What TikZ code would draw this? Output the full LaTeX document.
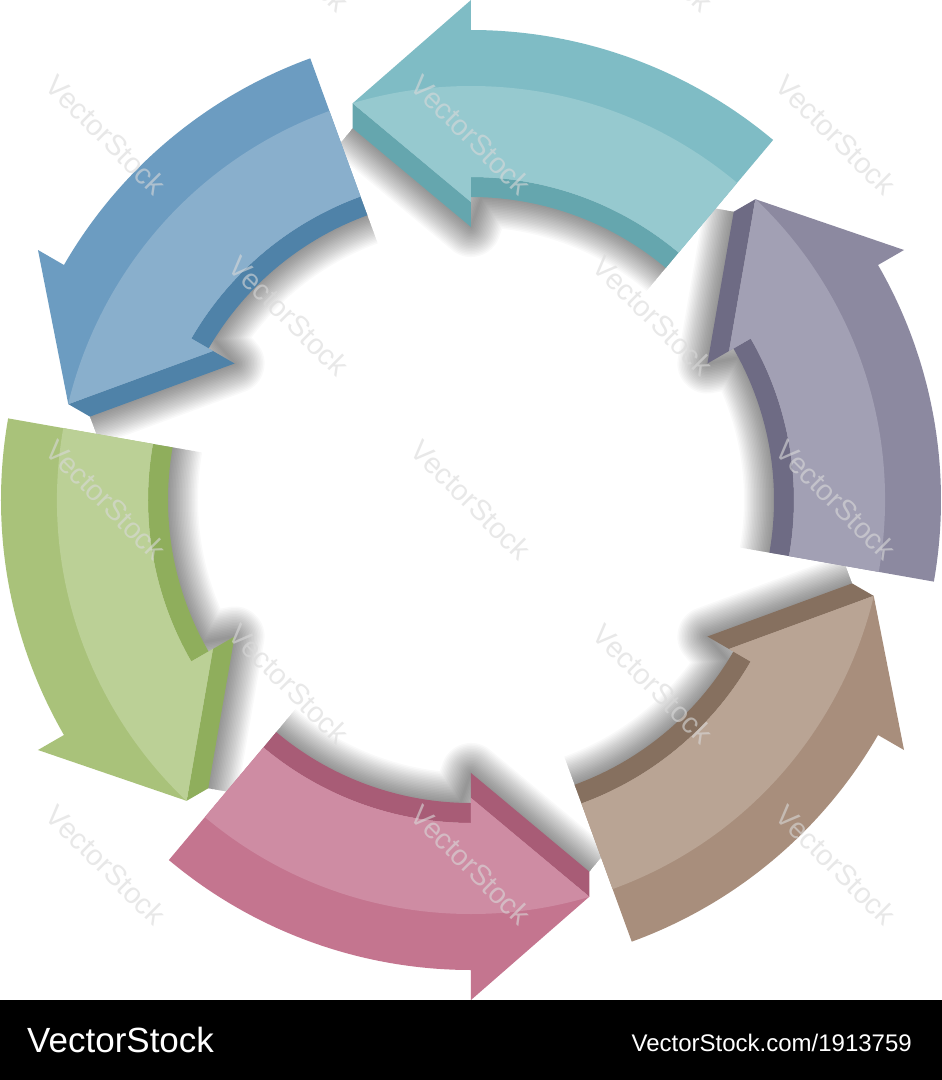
\documentclass[tikz,border=0pt]{standalone}
\usepackage{fontspec}
\setmainfont{Liberation Sans}
\definecolor{tealO}{HTML}{7FBCC5}
\definecolor{tealL}{HTML}{96C9CF}
\definecolor{tealW}{HTML}{65A6AE}
\definecolor{blueO}{HTML}{6C9CC1}
\definecolor{blueL}{HTML}{89AFCC}
\definecolor{blueW}{HTML}{4F82A8}
\definecolor{greenO}{HTML}{A9C27A}
\definecolor{greenL}{HTML}{BBD096}
\definecolor{greenW}{HTML}{8FAE5C}
\definecolor{pinkO}{HTML}{C4758F}
\definecolor{pinkL}{HTML}{CE8CA3}
\definecolor{pinkW}{HTML}{A85C76}
\definecolor{brownO}{HTML}{A88E7C}
\definecolor{brownL}{HTML}{B9A494}
\definecolor{brownW}{HTML}{86705F}
\definecolor{purpleO}{HTML}{8C89A0}
\definecolor{purpleL}{HTML}{A2A0B4}
\definecolor{purpleW}{HTML}{6E6B84}
\tikzset{
  shade line/.style={draw=black, opacity=0.022, line width=#1, line join=round},
  wmark/.style={rotate=-45, text=gray!30, opacity=0.6, font=\fontsize{29}{29}\selectfont},
  footer/.style={text=white, inner sep=0pt}
}
\newcommand\arrowface{(50:323) -- (50:470) arc[start angle=50,end angle=90,radius=470]
  -- (90:500) -- (-118.3,396.7) -- (90:298) -- (90:323)
  arc[start angle=90,end angle=50,radius=323] -- cycle}

\begin{document}
\begin{tikzpicture}[x=1pt,y=1pt]
      \useasboundingbox (-471,-580) rectangle (471,500);
      \fill[white] (-471,-580) rectangle (471,500);
      \foreach \k in {0,...,5} {
        \begin{scope}[rotate=60*\k]
          \foreach \w in {3,6,...,60} {
            \draw[shade line=\w] (-118.3,371.7) -- (90:273) -- (88:303)
              arc[start angle=88,end angle=50,radius=303];
          }
        \end{scope}
      }
      \foreach \k/\c in {0/teal,1/blue,2/green,3/pink,4/brown,5/purple} {
        \begin{scope}[rotate=60*\k]
          \fill[\c W] (50:303) arc[start angle=50,end angle=90,radius=303]
            -- (90:323) arc[start angle=90,end angle=50,radius=323] -- cycle;
          \fill[\c W] (-118.3,396.7) -- (90:298) -- (90:273) -- (-118.3,371.7) -- cycle;
          \fill[\c O] \arrowface;
          \begin{scope}
            \clip \arrowface;
            \fill[\c L] (0,0) circle[radius=414];
          \end{scope}
        \end{scope}
      }
      \foreach \x in {-365,0,365} {
        \foreach \y in {-365,0,365} {
          \node[wmark] (wm\x\y) at (\x,\y) {VectorStock};
        }
      }
      \foreach \x in {-182,182} {
        \foreach \y in {-184,184,548} {
          \node[wmark] (wm\x\y) at (\x,\y) {VectorStock};
        }
      }
      \fill[black] (-471,-500) rectangle (471,-580);
      \node[footer, anchor=base west, font=\fontsize{35}{35}\selectfont] (brand) at (-444,-552) {VectorStock};
      \node[footer, anchor=base east, font=\fontsize{24}{24}\selectfont] (ref) at (441,-551) {VectorStock.com/1913759};
    \end{tikzpicture}
\end{document}
